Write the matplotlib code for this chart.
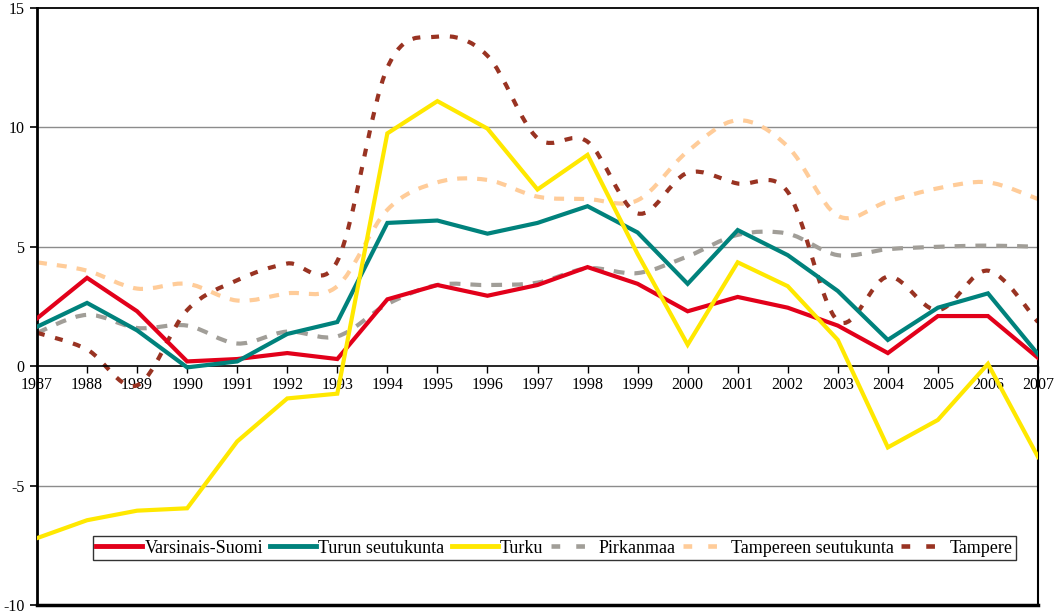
import numpy as np
import matplotlib
matplotlib.use("Agg")
import matplotlib.pyplot as plt
from matplotlib.path import Path
from matplotlib.patches import PathPatch
from matplotlib.lines import Line2D

plt.rcParams['font.family'] = ['Liberation Serif', 'DejaVu Serif']
plt.rcParams['axes.unicode_minus'] = False

years = list(range(1987, 2008))

varsinais_suomi = [2.0, 3.7, 2.3, 0.2, 0.3, 0.55, 0.3, 2.8, 3.4, 2.95, 3.4,
                   4.15, 3.45, 2.3, 2.9, 2.45, 1.7, 0.55, 2.1, 2.1, 0.35]
turun_seutukunta = [1.65, 2.65, 1.5, -0.05, 0.2, 1.35, 1.85, 6.0, 6.1, 5.55, 6.0,
                    6.7, 5.6, 3.45, 5.7, 4.65, 3.15, 1.1, 2.45, 3.05, 0.5]
turku = [-7.2, -6.45, -6.05, -5.95, -3.15, -1.35, -1.15, 9.75, 11.1, 9.95, 7.4,
         8.85, 4.7, 0.9, 4.35, 3.35, 1.1, -3.4, -2.25, 0.1, -3.8]
pirkanmaa = [1.4, 2.15, 1.6, 1.7, 0.95, 1.45, 1.25, 2.6, 3.4, 3.4, 3.5,
             4.1, 3.9, 4.6, 5.5, 5.55, 4.65, 4.9, 5.0, 5.05, 5.0]
tampereen_seutukunta = [4.35, 4.0, 3.25, 3.45, 2.75, 3.05, 3.35, 6.55, 7.7, 7.8, 7.1,
                        7.0, 6.95, 9.0, 10.3, 9.2, 6.3, 6.9, 7.45, 7.7, 7.0]
tampere = [1.4, 0.7, -0.8, 2.35, 3.6, 4.3, 4.4, 12.5, 13.8, 13.0, 9.55,
           9.4, 6.4, 8.1, 7.65, 7.3, 1.9, 3.75, 2.35, 4.0, 1.85]

solid = [("Varsinais-Suomi", varsinais_suomi, "#E2001A"),
         ("Turun seutukunta", turun_seutukunta, "#00827C"),
         ("Turku", turku, "#FFE800")]
dashed = [("Pirkanmaa", pirkanmaa, "#A19E98", (2.6, 2.4)),
          ("Tampereen seutukunta", tampereen_seutukunta, "#FFCC99", (2.4, 2.4)),
          ("Tampere", tampere, "#993322", (1.9, 2.6))]


def smooth_path(x, y):
    # Excel-like smoothed line: bezier segments through the data points
    p = np.column_stack([x, y]).astype(float)
    pts = np.vstack([p[0], p, p[-1]])
    verts = [p[0]]
    codes = [Path.MOVETO]
    for i in range(1, len(pts) - 2):
        c1 = pts[i] + (pts[i + 1] - pts[i - 1]) / 6
        c2 = pts[i + 1] - (pts[i + 2] - pts[i]) / 6
        verts += [c1, c2, pts[i + 1]]
        codes += [Path.CURVE4] * 3
    return Path(verts, codes)


fig = plt.figure(figsize=(10.63, 6.16), dpi=100)
ax = fig.add_axes([37 / 1063, 11 / 616, 1001 / 1063, 597 / 616])

for yv in [-5, 5, 10]:
    ax.axhline(yv, color="#8C8C8C", lw=1.0, zorder=1)

handles = []
for name, vals, col in solid:
    ax.plot(years, vals, color=col, lw=3, zorder=3, solid_joinstyle="miter")
    handles.append(Line2D([], [], color=col, lw=3.5, label=name))

for name, vals, col, ds in dashed:
    patch = PathPatch(smooth_path(years, vals), fill=False, edgecolor=col,
                      lw=3, linestyle=(0, ds), capstyle="butt", zorder=2)
    ax.add_patch(patch)
    handles.append(Line2D([], [], color=col, lw=3.3, linestyle=(0, (1.9, 3.5)),
                          dash_capstyle="butt", label=name))

ax.set_xlim(1987, 2007)
ax.set_ylim(-10, 15)
ax.set_yticks([-10, -5, 0, 5, 10, 15])
ax.set_xticks(years)
ax.set_xticklabels([str(y) for y in years])

ax.spines['bottom'].set_position(('data', 0))
ax.spines['bottom'].set_linewidth(1.2)
ax.spines['left'].set_linewidth(2)
ax.spines['top'].set_linewidth(1.3)
ax.spines['right'].set_linewidth(1.5)
ax.axhline(-10, color="black", lw=2.5, clip_on=False, zorder=5)

ax.tick_params(axis='x', direction='out', length=5, width=1, labelsize=11.5, pad=3)
ax.tick_params(axis='y', direction='out', length=5, width=1.2, labelsize=11.5, pad=4)

leg = ax.legend(handles=handles, loc='center', bbox_to_anchor=(0.517, 0.095),
                ncol=6, fontsize=13, frameon=True, fancybox=False,
                handlelength=2.55, handletextpad=0.12, columnspacing=0.4,
                borderpad=0.2, borderaxespad=0)
leg.get_frame().set_edgecolor("black")
leg.get_frame().set_linewidth(1.0)
leg.set_zorder(10)

fig.savefig("out.png", dpi=100)
